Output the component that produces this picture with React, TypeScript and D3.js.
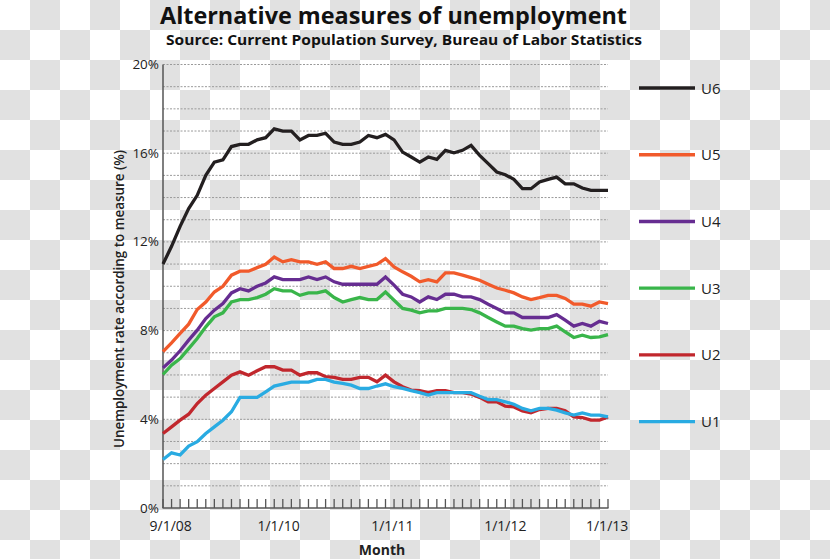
import React from "react";
import * as d3 from "d3";

const seriesNames = ["U6", "U5", "U4", "U3", "U2", "U1"];
const seriesColors = ["#231f20", "#f15a2b", "#662d91", "#39b54a", "#c1272d", "#29abe2"];

const u6 = [11.0, 11.8, 12.7, 13.5, 14.1, 15.0, 15.6, 15.7, 16.3, 16.4, 16.4, 16.6, 16.7, 17.1, 17.0, 17.0, 16.6, 16.8, 16.8, 16.9, 16.5, 16.4, 16.4, 16.5, 16.8, 16.7, 16.85,
  16.6, 16.05, 15.83, 15.6, 15.83, 15.72, 16.13, 16.02, 16.13, 16.35, 15.9, 15.53, 15.15, 15.03, 14.82, 14.4, 14.4, 14.7, 14.82, 14.92, 14.62, 14.62, 14.43, 14.32, 14.32, 14.32];
const u5 = [7.05, 7.45, 7.87, 8.29, 8.95, 9.29, 9.74, 10.0, 10.5, 10.68, 10.68, 10.84, 10.99, 11.32, 11.1, 11.2, 11.1, 11.1, 10.99, 11.1, 10.8, 10.8, 10.9, 10.8, 10.9, 10.99, 11.25,
  10.87, 10.65, 10.45, 10.2, 10.3, 10.2, 10.6, 10.6, 10.5, 10.39, 10.27, 10.09, 9.92, 9.82, 9.7, 9.52, 9.4, 9.49, 9.59, 9.59, 9.45, 9.19, 9.19, 9.1, 9.29, 9.22];
const u4 = [6.32, 6.67, 7.09, 7.57, 8.02, 8.54, 8.92, 9.22, 9.7, 9.89, 9.79, 10.0, 10.15, 10.42, 10.3, 10.3, 10.3, 10.42, 10.3, 10.42, 10.2, 10.09, 10.09, 10.09, 10.09, 10.09, 10.42,
  10.05, 9.64, 9.52, 9.29, 9.52, 9.4, 9.64, 9.64, 9.52, 9.52, 9.4, 9.19, 9.0, 8.8, 8.8, 8.59, 8.59, 8.59, 8.59, 8.72, 8.47, 8.2, 8.32, 8.2, 8.42, 8.32];
const u3 = [6.02, 6.44, 6.74, 7.19, 7.64, 8.17, 8.62, 8.8, 9.29, 9.4, 9.4, 9.49, 9.64, 9.89, 9.79, 9.79, 9.59, 9.7, 9.7, 9.79, 9.49, 9.29, 9.4, 9.49, 9.4, 9.4, 9.74,
  9.37, 9.0, 8.92, 8.8, 8.89, 8.89, 9.0, 9.0, 9.0, 8.95, 8.8, 8.59, 8.39, 8.2, 8.2, 8.09, 8.02, 8.09, 8.09, 8.2, 7.94, 7.69, 7.79, 7.69, 7.72, 7.82];
const u2 = [3.36, 3.66, 3.96, 4.23, 4.71, 5.09, 5.39, 5.69, 5.99, 6.14, 5.99, 6.19, 6.37, 6.37, 6.22, 6.22, 5.99, 6.1, 6.1, 5.92, 5.89, 5.8, 5.8, 5.89, 5.89, 5.69, 5.99,
  5.69, 5.47, 5.32, 5.29, 5.2, 5.29, 5.29, 5.2, 5.2, 5.14, 4.99, 4.79, 4.79, 4.59, 4.56, 4.38, 4.29, 4.44, 4.49, 4.49, 4.38, 4.11, 4.08, 3.96, 3.96, 4.11];
const u1 = [2.19, 2.49, 2.39, 2.79, 2.99, 3.36, 3.66, 3.96, 4.34, 4.99, 4.99, 4.99, 5.24, 5.5, 5.59, 5.68, 5.68, 5.68, 5.8, 5.8, 5.68, 5.62, 5.54, 5.39, 5.39, 5.5, 5.6,
  5.47, 5.39, 5.29, 5.2, 5.09, 5.2, 5.2, 5.2, 5.2, 5.2, 5.04, 4.89, 4.89, 4.79, 4.68, 4.49, 4.38, 4.49, 4.49, 4.41, 4.29, 4.19, 4.29, 4.19, 4.19, 4.11];

const yTicks = [0, 4, 8, 12, 16, 20];
const xLabels = ["9/1/08", "1/1/10", "1/1/11", "1/1/12", "1/1/13"];
const xLabelMonths = [0.9, 13.5, 26.8, 40, 51.9];

const W = 830;
const H = 559;

export default function App() {
  const seriesValues = [u6, u5, u4, u3, u2, u1];
  const nMonths = u6.length;
  const x = d3.scaleLinear().domain([0, nMonths - 1]).range([163, 608]);
  const y = d3.scaleLinear().domain([0, 20]).range([508, 64.5]);
  const line = d3
    .line<number>()
    .x((_, i) => x(i))
    .y((d) => y(d))
    .curve(d3.curveLinear);
  const gridVals = d3.range(1, 21);
  const monthTicks = d3.range(0, nMonths);
  const legendY = d3.scaleLinear().domain([0, 5]).range([88, 421.7]);
  const font = "'Open Sans', sans-serif";

  return (
    <div style={{ position: "absolute", left: 0, top: 0 }}>
      <svg width={W} height={H} style={{ display: "block" }}>
        <defs>
          <pattern id="checker" width={60} height={60} patternUnits="userSpaceOnUse">
            <rect width={60} height={60} fill="#ffffff" />
            <rect x={30} y={0} width={30} height={30} fill="#e1e1e1" />
            <rect x={0} y={30} width={30} height={30} fill="#e1e1e1" />
          </pattern>
        </defs>
        <rect width={W} height={H} fill="url(#checker)" />

        <text x={393.5} y={24} textAnchor="middle" fontFamily={font} fontWeight={700} fontSize={23.5}
          textLength={467} lengthAdjust="spacingAndGlyphs" fill="#111">
          Alternative measures of unemployment
        </text>
        <text x={404} y={44.5} textAnchor="middle" fontFamily={font} fontWeight={700} fontSize={14.5}
          textLength={476} lengthAdjust="spacingAndGlyphs" fill="#111">
          Source: Current Population Survey, Bureau of Labor Statistics
        </text>

        {gridVals.map((v) => (
          <line key={v} x1={163} x2={608} y1={y(v)} y2={y(v)} stroke="#9a9a9a" strokeWidth={1}
            strokeDasharray="2,1.5" />
        ))}

        <line x1={163} x2={163} y1={y(20)} y2={y(0)} stroke="#555" strokeWidth={1.5} />
        <line x1={162.5} x2={608.5} y1={y(0)} y2={y(0)} stroke="#555" strokeWidth={1.5} />
        {monthTicks.map((m) => (
          <line key={m} x1={x(m)} x2={x(m)} y1={y(0)} y2={y(0) - 9} stroke="#555" strokeWidth={1.3} />
        ))}

        {yTicks.map((v) => (
          <text key={v} x={159} y={y(v) + 4.5} textAnchor="end" fontFamily={font} fontSize={13.5} fill="#222">
            {v}%
          </text>
        ))}
        {xLabels.map((s, i) => (
          <text key={s} x={x(xLabelMonths[i])} y={531} textAnchor="middle" fontFamily={font} fontSize={14} fill="#222">
            {s}
          </text>
        ))}
        <text x={382} y={555} textAnchor="middle" fontFamily={font} fontWeight={700} fontSize={14} fill="#222">
          Month
        </text>
        <text transform="translate(124,299) rotate(-90)" textAnchor="middle" fontFamily={font} fontWeight={600}
          fontSize={13.5} textLength={298} lengthAdjust="spacingAndGlyphs" fill="#222">
          Unemployment rate according to measure (%)
        </text>

        {seriesValues.map((vals, k) => (
          <path key={seriesNames[k]} d={line(vals) || ""} fill="none" stroke={seriesColors[k]} strokeWidth={3.3}
            strokeLinejoin="miter" strokeLinecap="butt" />
        ))}

        {seriesNames.map((n, k) => (
          <g key={n}>
            <line x1={639} x2={695} y1={legendY(k)} y2={legendY(k)} stroke={seriesColors[k]} strokeWidth={3.3} />
            <text x={701} y={legendY(k) + 5.5} fontFamily={font} fontSize={15} fill="#222">
              {n}
            </text>
          </g>
        ))}
      </svg>
    </div>
  );
}
